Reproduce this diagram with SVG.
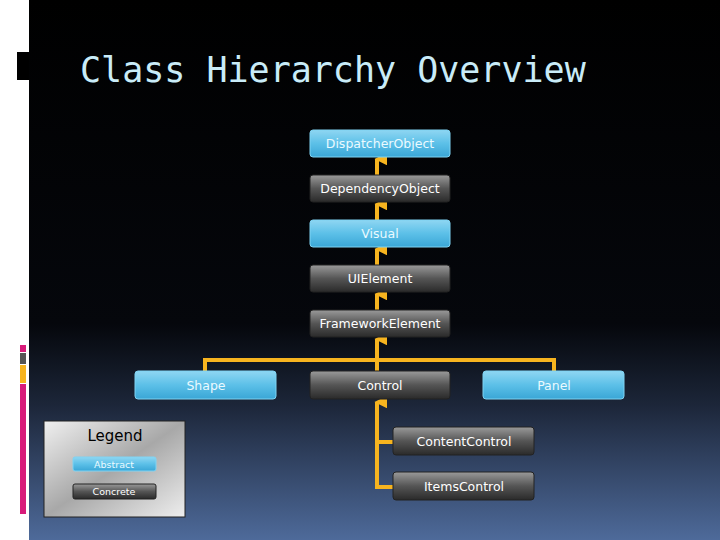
<svg xmlns="http://www.w3.org/2000/svg" width="720" height="540" viewBox="0 0 720 540">
<defs>
<linearGradient id="bg" x1="0" y1="0" x2="0" y2="1">
<stop offset="0" stop-color="#000"/><stop offset="0.6" stop-color="#05070c"/><stop offset="0.75" stop-color="#1c2639"/><stop offset="1" stop-color="#4e6a9a"/>
</linearGradient>
<linearGradient id="ab" x1="0" y1="0" x2="0" y2="1">
<stop offset="0" stop-color="#8fd6f2"/><stop offset="0.5" stop-color="#5cc0e8"/><stop offset="1" stop-color="#3aa6d6"/>
</linearGradient>
<linearGradient id="co" x1="0" y1="0" x2="0" y2="1">
<stop offset="0" stop-color="#9a9a9a"/><stop offset="0.5" stop-color="#555"/><stop offset="1" stop-color="#2a2a2a"/>
</linearGradient>
<linearGradient id="lg" x1="0" y1="0" x2="1" y2="1">
<stop offset="0" stop-color="#f0f0f0"/><stop offset="0.5" stop-color="#a8a8a8"/><stop offset="1" stop-color="#eeeeee"/>
</linearGradient>
<marker id="ar" viewBox="0 0 10 10" refX="5" refY="2" markerWidth="3.2" markerHeight="3.2" orient="auto-start-reverse" markerUnits="strokeWidth">
<path d="M0,10 L5,0 L10,10 Z" fill="#f7b41f"/>
</marker>
<style>
.ab{fill:url(#ab);stroke:#7fd3f3;stroke-width:1}
.co{fill:url(#co);stroke:#222;stroke-width:1}
.t{font-family:"DejaVu Sans",sans-serif;font-size:12.5px;text-anchor:middle;fill:#fff}
.ta{fill:#eafaff}
.c{stroke:#f7b41f;stroke-width:4;fill:none}
</style>
</defs>
<rect width="720" height="540" fill="#fff"/>
<rect x="29" width="691" height="540" fill="url(#bg)"/>
<rect x="17" y="52" width="12" height="28" fill="#000"/>
<rect x="20" y="345" width="6" height="7" fill="#d81b7a"/>
<rect x="20" y="353" width="6" height="11" fill="#555"/>
<rect x="20" y="365" width="6" height="18" fill="#f7b41f"/>
<rect x="20" y="384" width="6" height="130" fill="#d81b7a"/>
<text x="80" y="82" font-family="'DejaVu Sans Mono',monospace" font-size="35" fill="#c9ecf8">Class Hierarchy Overview</text>
<g id="connectors">
<line class="c" x1="377" y1="175" x2="377" y2="159" marker-end="url(#ar)"/>
<line class="c" x1="377" y1="220" x2="377" y2="204" marker-end="url(#ar)"/>
<line class="c" x1="377" y1="265" x2="377" y2="249" marker-end="url(#ar)"/>
<line class="c" x1="377" y1="310" x2="377" y2="294" marker-end="url(#ar)"/>
<line class="c" x1="377" y1="371" x2="377" y2="339" marker-end="url(#ar)"/>
<polyline class="c" points="205,371 205,360 554,360 554,371"/>
<polyline class="c" points="393,487 377,487 377,402" marker-end="url(#ar)"/>
<line class="c" x1="377" y1="442" x2="393" y2="442"/>
</g>
<g id="dispatcherobject"><rect class="ab" x="310" y="130" width="140" height="27" rx="3"/><text class="t ta" x="380" y="148">DispatcherObject</text></g>
<g id="dependencyobject"><rect class="co" x="310" y="175" width="140" height="27" rx="3"/><text class="t" x="380" y="193">DependencyObject</text></g>
<g id="visual"><rect class="ab" x="310" y="220" width="140" height="27" rx="3"/><text class="t ta" x="380" y="238">Visual</text></g>
<g id="uielement"><rect class="co" x="310" y="265" width="140" height="27" rx="3"/><text class="t" x="380" y="283">UIElement</text></g>
<g id="frameworkelement"><rect class="co" x="310" y="310" width="140" height="27" rx="3"/><text class="t" x="380" y="328">FrameworkElement</text></g>
<g id="shape"><rect class="ab" x="135" y="371" width="141" height="28" rx="3"/><text class="t ta" x="206" y="390">Shape</text></g>
<g id="control"><rect class="co" x="310" y="371" width="140" height="28" rx="3"/><text class="t" x="380" y="390">Control</text></g>
<g id="panel"><rect class="ab" x="483" y="371" width="141" height="28" rx="3"/><text class="t ta" x="554" y="390">Panel</text></g>
<g id="contentcontrol"><rect class="co" x="393" y="427" width="141" height="28" rx="3"/><text class="t" x="464" y="446">ContentControl</text></g>
<g id="itemscontrol"><rect class="co" x="393" y="472" width="141" height="28" rx="3"/><text class="t" x="464" y="491">ItemsControl</text></g>
<g id="legend">
<rect x="44" y="421" width="141" height="96" fill="url(#lg)" stroke="#222"/>
<text x="115" y="441" font-family="'DejaVu Sans',sans-serif" font-size="15" text-anchor="middle" fill="#000">Legend</text>
<rect class="ab" x="73" y="457" width="83" height="14" rx="2"/><text class="t ta" x="114" y="468" style="font-size:9.5px">Abstract</text>
<rect class="co" x="73" y="484" width="83" height="15" rx="2"/><text class="t" x="114" y="495" style="font-size:9.5px">Concrete</text>
</g>
</svg>
